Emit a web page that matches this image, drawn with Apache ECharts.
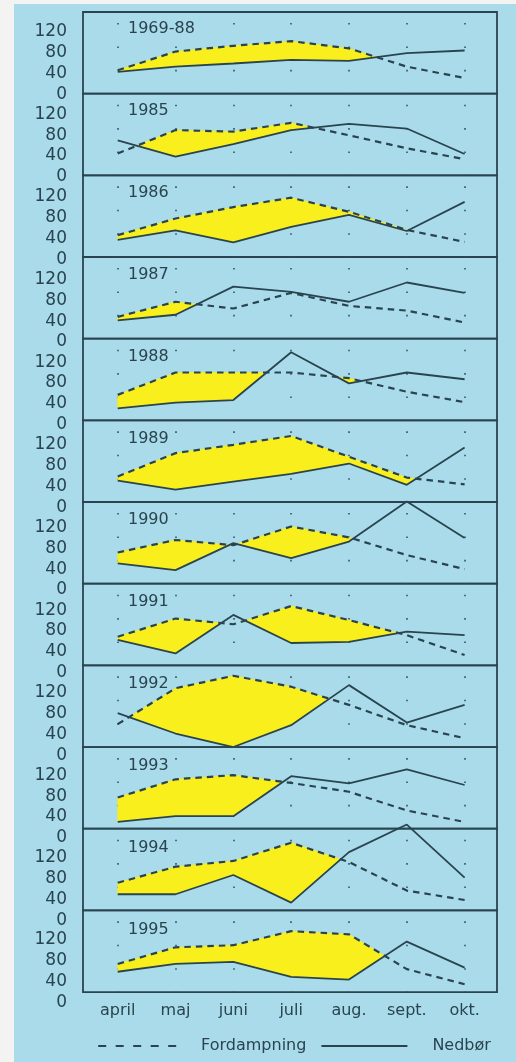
<!DOCTYPE html>
<html>
<head>
<meta charset="utf-8">
<script src="https://cdn.jsdelivr.net/npm/echarts@6/dist/echarts.min.js"></script>
<style>
	html, body { margin: 0; padding: 0; background: #f3f3f2; }
	#bg { position: absolute; left: 14px; top: 4px; right: 0; bottom: 0; background: #a9dbea; }
	#chart { position: absolute; left: 0; top: 0; width: 516px; height: 1062px; }
</style>
</head>
<body>
<div id="bg"></div>
<div id="chart"></div>
<script>
	var months = ['april', 'maj', 'juni', 'juli', 'aug.', 'sept.', 'okt.'];
	var years = ['1969-88', '1985', '1986', '1987', '1988', '1989', '1990', '1991', '1992', '1993', '1994', '1995'];
	var yTicks = [0, 40, 80, 120];

	// mm per month
	var fordampning = [
		[45, 81, 92, 101, 87, 52, 30],
		[42, 87, 84, 101, 77, 52, 31],
		[42, 74, 96, 114, 87, 52, 29],
		[42, 71, 58, 88, 63, 54, 31],
		[49, 92, 92, 92, 81, 55, 35],
		[49, 94, 110, 127, 87, 47, 34],
		[60, 84, 74, 110, 89, 55, 28],
		[55, 90, 79, 114, 87, 58, 20],
		[44, 113, 137, 116, 81, 42, 17],
		[60, 95, 103, 88, 71, 35, 13],
		[53, 84, 95, 130, 93, 38, 20],
		[54, 86, 90, 117, 111, 44, 15]
	];
	var nedbor = [
		[42, 52, 58, 65, 63, 78, 83],
		[67, 36, 60, 87, 99, 90, 41],
		[33, 51, 28, 58, 81, 50, 106],
		[35, 46, 100, 90, 71, 108, 88],
		[23, 34, 39, 131, 71, 92, 79],
		[41, 24, 39, 54, 74, 33, 105],
		[39, 26, 78, 49, 81, 158, 88],
		[49, 23, 97, 43, 45, 65, 58],
		[65, 26, 0, 42, 119, 47, 81],
		[13, 24, 24, 101, 87, 114, 84],
		[31, 31, 68, 15, 112, 165, 63],
		[39, 54, 58, 29, 24, 97, 47]
	];

	var ink = '#2a444f';
	var yellow = '#f8ef1c';
	var font = 'DejaVu Sans';
	var top0 = 12, panelH = 81.67;

	// areas where fordampning lies above nedbør, crossing points included
	function fillRegions(e, p) {
		var regions = [], upper = [], lower = [];
		for (var k = 0; k < e.length; k++) {
			var d = e[k] - p[k];
			if (d > 0) {
				upper.push([k, e[k]]);
				lower.push([k, p[k]]);
			}
			if (k < e.length - 1) {
				var d2 = e[k + 1] - p[k + 1];
				if ((d > 0) !== (d2 > 0)) {
					var t = d / (d - d2);
					var c = [k + t, e[k] + t * (e[k + 1] - e[k])];
					if (d > 0) {
						upper.push(c);
						regions.push(upper.concat(lower.reverse()));
						upper = []; lower = [];
					} else {
						upper.push(c);
						lower.push(c);
					}
				}
			}
		}
		if (upper.length) regions.push(upper.concat(lower.reverse()));
		return regions;
	}

	var grids = [], xAxes = [], yAxes = [], titles = [], series = [];
	var idx = months.map(function (m, k) { return k; });

	years.forEach(function (yr, i) {
		var top = top0 + i * panelH;
		var last = i === years.length - 1;
		grids.push({
			left: 83, width: 414, top: top, height: panelH,
			show: true, borderColor: ink, borderWidth: 1.8, backgroundColor: 'transparent'
		});
		xAxes.push({
			type: 'value', gridIndex: i, min: -0.6, max: 6.56,
			axisLine: { show: false },
			axisTick: { show: false, customValues: idx },
			axisLabel: {
				show: last, customValues: idx, margin: 11,
				fontFamily: font, fontSize: 16, color: ink,
				formatter: function (v) { return months[v]; }
			},
			splitLine: {
				show: true,
				lineStyle: { color: '#35525c', width: 2, type: [1.6, 21.8], dashOffset: 12.4, opacity: 0.8 }
			}
		});
		yAxes.push({
			type: 'value', gridIndex: i, min: 0, max: 157, interval: 40,
			axisLine: { show: false }, axisTick: { show: false }, splitLine: { show: false },
			axisLabel: {
				margin: 16, fontFamily: font, fontSize: 17, color: ink,
				showMaxLabel: false, showMinLabel: true, hideOverlap: false,
				// the label column drifts slightly downward panel by panel
				verticalAlign: 'top', lineHeight: Math.min(1 + 1.9 * i, 20.4),
				formatter: function (v) { return yTicks.indexOf(v) >= 0 ? String(v) : ''; }
			}
		});
		titles.push({
			text: yr, left: 128, top: top + 9 + i * 0.2, padding: 0,
			textStyle: { fontFamily: font, fontSize: 16, fontWeight: 'normal', color: ink }
		});

		var e = fordampning[i], p = nedbor[i];
		series.push({
			type: 'custom', xAxisIndex: i, yAxisIndex: i, silent: true, z: 1,
			data: [[0, 0]],
			renderItem: function (params, api) {
				return {
					type: 'group',
					children: fillRegions(e, p).map(function (poly) {
						return {
							type: 'polygon',
							shape: { points: poly.map(function (pt) { return api.coord(pt); }) },
							style: { fill: yellow, stroke: yellow, lineWidth: 0.6 }
						};
					})
				};
			}
		});
		series.push({
			name: 'Fordampning', type: 'line', xAxisIndex: i, yAxisIndex: i, z: 3,
			symbol: 'none', clip: false, silent: true, color: ink,
			data: idx.map(function (k) { return [k, e[k]]; }),
			lineStyle: { color: ink, width: 2.2, type: [6.5, 5] }
		});
		series.push({
			name: 'Nedbør', type: 'line', xAxisIndex: i, yAxisIndex: i, z: 3,
			symbol: 'none', clip: false, silent: true, color: ink,
			data: idx.map(function (k) { return [k, p[k]]; }),
			lineStyle: { color: ink, width: 1.8 }
		});
	});

	var chart = echarts.init(document.getElementById('chart'));
	chart.setOption({
		animation: false,
		title: titles,
		legend: {
			data: [
				{ name: 'Fordampning', textStyle: { padding: [0, 0, 0, 17] }, lineStyle: { type: [8, 9.5], width: 2.2 } },
				{ name: 'Nedbør', textStyle: { padding: [0, 0, 0, 20] } }
			],
			left: 87, top: 1033, itemWidth: 86, itemHeight: 14, itemGap: 14,
			selectedMode: false,
			itemStyle: { opacity: 0 },
			lineStyle: { color: ink },
			textStyle: { fontFamily: font, fontSize: 16, color: ink }
		},
		grid: grids,
		xAxis: xAxes,
		yAxis: yAxes,
		series: series
	});
</script>
</body>
</html>
